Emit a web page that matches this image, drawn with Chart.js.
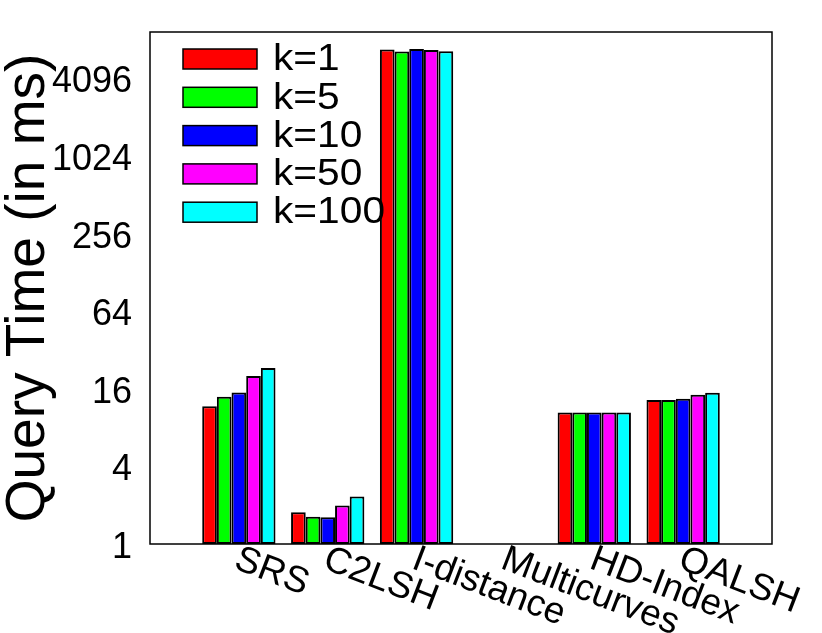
<!DOCTYPE html>
<html>
<head>
<meta charset="utf-8">
<script src="https://cdn.jsdelivr.net/npm/chart.js@4/dist/chart.umd.min.js"></script>
<style>
  html, body { margin: 0; padding: 0; background: #fff; }
  #wrap { width: 822px; height: 633px; }
</style>
</head>
<body>
<div id="wrap"><canvas id="queryChart" width="822" height="633"></canvas></div>
<script>
// Categories (blank slots at both ends keep the gap gnuplot leaves)
const methods = ['', 'SRS', 'C2LSH', 'I-distance', 'Multicurves', 'HD-Index', 'QALSH', ''];

// Query time in ms, one array per k
const k1   = [null, 11.7, 1.76, 6890, null, 10.5, 13.1, null];
const k5   = [null, 13.9, 1.63, 6620, null, 10.5, 13.1, null];
const k10  = [null, 15.0, 1.61, 6940, null, 10.5, 13.4, null];
const k50  = [null, 20.1, 1.99, 6800, null, 10.5, 14.4, null];
const k100 = [null, 23.2, 2.34, 6650, null, 10.5, 14.9, null];

const seriesLabels = ['k=1', 'k=5', 'k=10', 'k=50', 'k=100'];
const seriesColors = ['#ff0000', '#00ff00', '#0000ff', '#ff00ff', '#00ffff'];

// y tick labels (log base 2 spacing)
const yTicks = [1, 4, 16, 64, 256, 1024, 4096];

const FONT = '"Liberation Sans", Arial, Helvetica, sans-serif';

// frame + legend + rotated x labels
const decorations = {
  id: 'decorations',
  afterDraw(chart) {
    const { ctx, chartArea: a } = chart;
    const xs = chart.scales.x;
    ctx.save();

    // frame round the plot
    ctx.strokeStyle = '#000';
    ctx.lineWidth = 1.5;
    ctx.strokeRect(a.left, a.top, a.right - a.left, a.bottom - a.top);

    // legend inside the plot, top left
    chart.data.datasets.forEach((ds, i) => {
      const y = a.top + 27 + i * 38.3;
      ctx.fillStyle = ds.backgroundColor;
      ctx.fillRect(a.left + 33, y - 10, 74, 20);
      ctx.lineWidth = 1.5;
      ctx.strokeStyle = '#000';
      ctx.strokeRect(a.left + 33, y - 10, 74, 20);
      ctx.save();
      ctx.translate(a.left + 123, y + 1);
      ctx.scale(1.1, 1);
      ctx.font = '37px ' + FONT;
      ctx.textBaseline = 'middle';
      ctx.textAlign = 'left';
      ctx.fillStyle = '#000';
      ctx.fillText(ds.label, 0, 0);
      ctx.restore();
    });

    // x labels start at the category and run down to the right
    methods.forEach((m, i) => {
      if (!m) return;
      const x = xs.getPixelForValue(i) + 4;
      ctx.save();
      ctx.translate(x, a.bottom - 3);
      ctx.rotate(21 * Math.PI / 180);
      ctx.font = '37px ' + FONT;
      ctx.textBaseline = 'top';
      ctx.textAlign = 'left';
      ctx.fillStyle = '#000';
      ctx.fillText(m, 0, 0);
      ctx.restore();
    });

    ctx.restore();
  }
};

const seriesData = [k1, k5, k10, k50, k100];

new Chart(document.getElementById('queryChart'), {
  type: 'bar',
  data: {
    labels: methods,
    datasets: seriesData.map((d, i) => ({
      label: seriesLabels[i],
      data: d,
      backgroundColor: seriesColors[i],
      borderColor: '#000',
      borderWidth: 2,
      borderSkipped: false,
      barPercentage: 1.0,
      categoryPercentage: 0.825
    }))
  },
  options: {
    responsive: false,
    animation: false,
    devicePixelRatio: 1,
    layout: { padding: { top: 32, right: 50, left: 0, bottom: 0 } },
    plugins: {
      legend: { display: false },
      tooltip: { enabled: false }
    },
    scales: {
      x: {
        type: 'category',
        offset: false,
        grid: { display: false, drawTicks: false },
        border: { display: false },
        ticks: { display: false },
        afterFit(scale) { scale.height = 89; }
      },
      y: {
        type: 'logarithmic',
        min: 1,
        max: 9400,
        grid: { display: false, drawTicks: false },
        border: { display: false },
        afterBuildTicks(scale) {
          scale.ticks = yTicks.map(v => ({ value: v }));
        },
        afterFit(scale) {
          scale.width = 150;
          scale.paddingTop = 0;
          scale.paddingBottom = 0;
        },
        ticks: {
          color: '#000',
          padding: 18,
          labelOffset: 4,
          font: { family: FONT, size: 36 },
          callback: v => String(v)
        },
        title: {
          display: true,
          text: 'Query Time (in ms)',
          color: '#000',
          padding: { top: 1, bottom: 0 },
          font: { family: FONT, size: 55, lineHeight: 1 }
        }
      }
    }
  },
  plugins: [decorations]
});
</script>
</body>
</html>
